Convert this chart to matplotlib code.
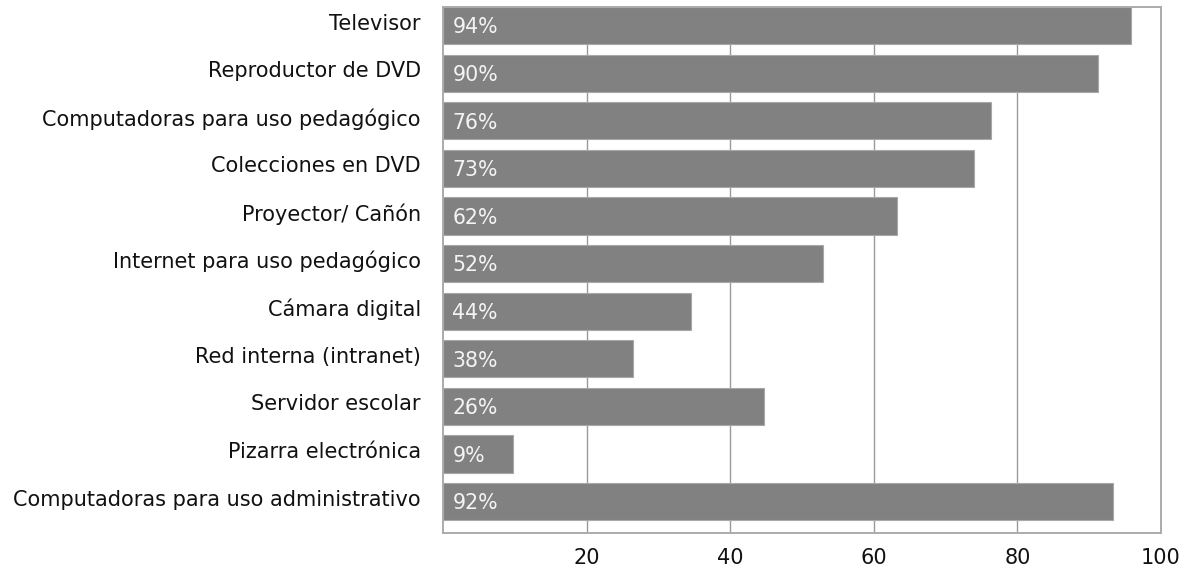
import matplotlib
matplotlib.use("Agg")
import matplotlib.pyplot as plt
import matplotlib.transforms as mtransforms
import numpy as np

# categories, top to bottom
categories = [
    "Televisor",
    "Reproductor de DVD",
    "Computadoras para uso pedagógico",
    "Colecciones en DVD",
    "Proyector/ Cañón",
    "Internet para uso pedagógico",
    "Cámara digital",
    "Red interna (intranet)",
    "Servidor escolar",
    "Pizarra electrónica",
    "Computadoras para uso administrativo",
]
# bar lengths as drawn in the source (they do not always match the printed labels)
bar_values = [95.8, 91.2, 76.3, 73.9, 63.3, 52.9, 34.6, 26.4, 44.7, 9.8, 93.3]
value_labels = ["94%", "90%", "76%", "73%", "62%", "52%", "44%", "38%", "26%", "9%", "92%"]
x_ticks = [20, 40, 60, 80, 100]

plt.rcParams["font.family"] = ["DejaVu Sans"]

fig = plt.figure(figsize=(11.96, 5.69), dpi=100)
ax = fig.add_axes([0.3704, 0.0633, 0.6003, 0.9244])

y = np.arange(len(categories))
bar_h = 0.78
ax.barh(y, bar_values, height=bar_h, color="#818181", edgecolor="#a8a8a8",
        linewidth=0.8, zorder=2)

for yi, lab in zip(y, value_labels):
    ax.text(1.3, yi + 0.04, lab, color="#f4f4f4", fontsize=14.8,
            va="center", ha="left", zorder=3)

ax.set_xlim(0, 100)
ax.set_ylim(len(categories) - 1 + bar_h / 2 + 0.27, -bar_h / 2)
ax.set_yticks(y)
ax.set_yticklabels(categories, fontsize=15, color="#111111")
ax.set_xticks(x_ticks)
ax.set_xticklabels([str(t) for t in x_ticks], fontsize=15, color="#111111")
ax.tick_params(axis="both", length=0)
ax.tick_params(axis="y", pad=16)
ax.tick_params(axis="x", pad=11)

# category labels sit a little above the bar centre in the source
shift = mtransforms.ScaledTranslation(0, 4 / 100, fig.dpi_scale_trans)
for t in ax.get_yticklabels():
    t.set_transform(t.get_transform() + shift)

ax.xaxis.grid(True, color="#9a9a9a", linewidth=1.0, zorder=1)
ax.set_axisbelow(True)
for s in ax.spines.values():
    s.set_color("#ababab")
    s.set_linewidth(1.4)

fig.savefig("out.png", dpi=100)
